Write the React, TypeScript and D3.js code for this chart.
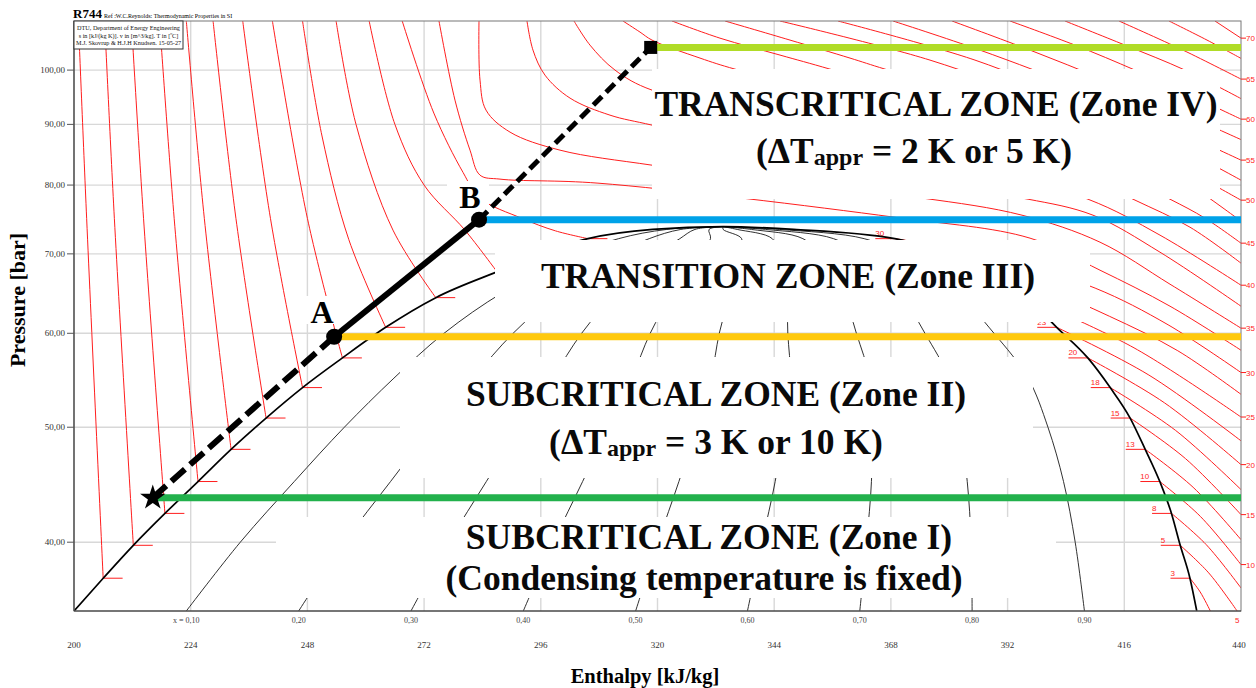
import React from "react";
import * as d3 from "d3";

// R744 (CO2) log p-h diagram with operating zones of a transcritical cycle

const H_DOMAIN = [200, 440];
const P_DOMAIN = [35, 110];
const H_TICKS = [200, 224, 248, 272, 296, 320, 344, 368, 392, 416, 440];
const P_TICKS = [40, 50, 60, 70, 80, 90, 100];
const P_TICK_LABELS = ["40,00", "50,00", "60,00", "70,00", "80,00", "90,00", "100,00"];

// saturation dome (h [kJ/kg], p [bar]), liquid side up to critical point then vapour side
const SAT_DOME = [
  [200.0, 35.0], [206.0, 37.3], [212.2, 39.76], [218.7, 42.3], [225.5, 45.0], [232.3, 47.9],
  [239.5, 50.9], [247.0, 54.0], [255.2, 57.2], [264.1, 60.7], [274.4, 64.3], [287.0, 67.6],
  [305.7, 72.1], [319.0, 73.4], [333.5, 73.8], [348.0, 73.4], [368.8, 72.1], [386.0, 67.6],
  [396.0, 64.3], [402.1, 60.7], [408.5, 57.2], [413.1, 54.0], [417.2, 50.9], [420.3, 47.9],
  [423.3, 45.0], [425.7, 42.3], [427.5, 39.76], [429.5, 37.3], [430.9, 35.0],
];

// constant quality lines
const QUALITY_LABELS = ["x = 0,10", "0,20", "0,30", "0,40", "0,50", "0,60", "0,70", "0,80", "0,90"];
const QUALITY_P = [35, 40, 45, 50, 55, 60, 65, 70, 72.1, 73.4, 73.8];
const QUALITY_H = [
  [223.1, 234.2, 245.3, 255.6, 265.8, 276.1, 288.3, 303.3, 312.0, 321.9, 333.5],
  [246.2, 255.6, 265.1, 273.7, 282.1, 290.3, 300.0, 311.6, 318.3, 324.8, 333.5],
  [269.3, 277.1, 284.8, 291.8, 298.4, 304.4, 311.6, 319.9, 324.6, 327.7, 333.5],
  [292.4, 298.6, 304.6, 309.9, 314.7, 318.5, 323.2, 328.2, 330.9, 330.6, 333.5],
  [315.5, 320.1, 324.4, 328.0, 331.0, 332.7, 334.9, 336.5, 337.3, 333.5, 333.5],
  [338.5, 341.5, 344.2, 346.0, 347.3, 346.8, 346.5, 344.8, 343.6, 336.4, 333.5],
  [361.6, 363.0, 364.0, 364.1, 363.6, 360.9, 358.1, 353.1, 349.9, 339.3, 333.5],
  [384.7, 384.5, 383.7, 382.2, 379.9, 375.0, 369.7, 361.4, 356.2, 342.2, 333.5],
  [407.8, 405.9, 403.5, 400.3, 396.2, 389.2, 381.4, 369.7, 362.5, 345.1, 333.5],
];

// subcritical isotherms [°C]: liquid branch (top -> saturation) and vapour branch (saturation -> edge)
const SUB_T = [2.5, 5, 7.5, 10, 12.5, 15, 17.5, 20, 22.5, 25, 27.5, 30];
const SUB_LABELS = ["3", "5", "8", "10", "13", "15", "18", "20", "23", "25", "28", "30"];
const SUB_LIQUID = [
  [[200.9, 110], [202.6, 75], [206.0, 37.3]],
  [[206.3, 110], [208.3, 75], [212.2, 39.76]],
  [[211.8, 110], [214.3, 75], [218.7, 42.3]],
  [[217.6, 110], [220.6, 75], [225.5, 45.0]],
  [[223.1, 110], [226.8, 75], [232.3, 47.9]],
  [[228.6, 110], [233.3, 75], [239.5, 50.9]],
  [[234.7, 110], [240.4, 75], [247.0, 54.0]],
  [[240.8, 110], [248.0, 75], [255.2, 57.2]],
  [[247.0, 110], [251.0, 88], [256.5, 72], [264.1, 60.7]],
  [[253.9, 110], [258.0, 90], [265.6, 73.3], [274.4, 64.3]],
  [[260.7, 110], [266.0, 90], [272.0, 80], [280.4, 73.3], [287.0, 67.6]],
  [[267.5, 110], [274.0, 92], [280.0, 82], [283.5, 78], [292.1, 75], [299.0, 73.2], [305.7, 72.1]],
];
const SUB_VAPOR = [
  [[429.5, 37.3], [431.6, 36.32], [433.7, 35.0]],
  [[427.5, 39.76], [433.35, 37.69], [439.2, 35.0]],
  [[425.7, 42.3], [432.85, 39.81], [440, 36.6]],
  [[423.3, 45.0], [431.65, 42.05], [440, 38.3]],
  [[420.3, 47.9], [430.15, 44.5], [440, 40.2]],
  [[417.2, 50.9], [428.6, 47.04], [440, 42.2]],
  [[413.1, 54.0], [426.55, 49.69], [440, 44.3]],
  [[408.5, 57.2], [424.25, 52.43], [440, 46.5]],
  [[402.1, 60.7], [421.05, 55.33], [440, 48.7]],
  [[396.0, 64.3], [418.0, 58.33], [440, 51.0]],
  [[386.0, 67.6], [400.0, 65.3], [413.0, 62.0], [427.0, 58.0], [440, 53.3]],
  [[368.8, 72.1], [390.0, 69.5], [410.0, 65.5], [425.0, 61.0], [440, 55.6]],
];

// supercritical isotherms [°C]
const SUPER_T = [32.5, 35, 37.5, 40, 42.5, 45, 47.5, 50, 52.5, 55, 57.5, 60, 62.5, 65, 67.5, 70];
const SUPER_ISO = [
  [[275.06, 110], [278.35, 94.34], [281.44, 85.61], [283.5, 81.56], [287.61, 80.93], [307.76, 80.3], [368.64, 75.17], [396.61, 72.17], [411.0, 67.82], [425.4, 63.24], [440, 58.06]],
  [[283.29, 110], [283.5, 98.08], [284.73, 92.53], [289.67, 88.66], [299.95, 85.61], [318.87, 83.15], [349.31, 79.99], [374.6, 77.99], [394.96, 75.46], [411.0, 71.61], [425.4, 66.0], [440, 60.6]],
  [[293.16, 110], [294.39, 103.96], [296.86, 99.03], [302.01, 94.71], [310.23, 91.63], [318.87, 89.87], [349.31, 83.97], [380.15, 79.52], [396.2, 77.84], [409.56, 75.46], [423.34, 70.23], [440, 63.24]],
  [[302.83, 110], [306.12, 104.97], [311.26, 100], [318.87, 96.19], [349.31, 90.75], [380.15, 83.97], [408.53, 77.84], [423.34, 72.59], [440, 65.87]],
  [[312.9, 110], [316.4, 107.66], [318.87, 106.0], [328.74, 102.36], [335.94, 100.19], [369.87, 92.53], [400.72, 83.97], [417.79, 77.84], [429.51, 73.72], [440, 68.75]],
  [[322.98, 110], [332.85, 106.4], [345.19, 102.96], [355.47, 100.19], [390.44, 90.75], [415.11, 81.56], [425.4, 77.84], [432.6, 75.02], [440, 71.47]],
  [[333.88, 110], [347.25, 106.0], [359.59, 102.36], [366.79, 100.19], [400.72, 91.1], [423.34, 83.15], [432.6, 78.45], [440, 74.59]],
  [[345.19, 110], [376.04, 101.96], [398.66, 94.34], [417.17, 87.29], [440, 77.69]],
  [[357.12, 110], [385.29, 101.96], [405.86, 94.34], [424.37, 87.29], [440, 80.77]],
  [[368.43, 110], [386.32, 103.96], [407.92, 96.19], [424.37, 89.87], [440, 83.97]],
  [[380.56, 110], [396.61, 103.96], [412.03, 98.08], [426.43, 92.53], [440, 87.38]],
  [[392.49, 110], [405.86, 104.97], [418.2, 100], [429.51, 95.26], [440, 90.92]],
  [[403.8, 110], [416.14, 104.97], [428.48, 100], [440, 94.62]],
  [[414.91, 110], [428.07, 103.96], [440, 98.27]],
  [[425.19, 110], [433.01, 106.0], [440, 102.3]],
  [[434.65, 110], [440, 106.4]],
];

// cycle states: star (zone I limit), A, B, top point
const CYCLE_LABELS = ["", "A", "B", ""];
const CYCLE_H = [216.2, 253.5, 283.3, 318.6];
const CYCLE_P = [43.6, 59.6, 74.8, 104.5];

// zone boundary lines, same order as the cycle states
const ZONE_LINE_P = [43.6, 59.6, 74.8, 104.5];

const ZONE_IV = ["TRANSCRITICAL ZONE (Zone IV)", "= 2 K or 5 K)"];
const ZONE_III = ["TRANSITION ZONE (Zone III)"];
const ZONE_II = ["SUBCRITICAL ZONE (Zone II)", "= 3 K or 10 K)"];
const ZONE_I = ["SUBCRITICAL ZONE (Zone I)", "(Condensing temperature is fixed)"];

const SERIF = "'Liberation Serif', 'Times New Roman', serif";
const SANS = "'Liberation Sans', Arial, sans-serif";
const RED = "#ff1e1e";

export default function App() {
  const left = 74, right = 1241, top = 21, bottom = 611;
  const x = d3.scaleLinear().domain(H_DOMAIN).range([left, right]);
  const y = d3.scaleLog().domain(P_DOMAIN).range([bottom, top]);

  const curve = d3
    .line<number[]>()
    .x((d) => x(d[0]))
    .y((d) => y(d[1]))
    .curve(d3.curveCatmullRom.alpha(0.5));
  const dome = d3
    .line<number[]>()
    .x((d) => x(d[0]))
    .y((d) => y(d[1]))
    .curve(d3.curveMonotoneX);

  const qualityLines = QUALITY_H.map((hs) => hs.map((h, i) => [h, QUALITY_P[i]]));

  // isotherm ends for the temperature scale on the right / bottom edge
  const ends: { t: number; h: number; p: number }[] = [];
  SUB_T.forEach((t, i) => {
    const e = SUB_VAPOR[i][SUB_VAPOR[i].length - 1];
    ends.push({ t, h: e[0], p: e[1] });
  });
  SUPER_T.forEach((t, i) => {
    const e = SUPER_ISO[i][SUPER_ISO[i].length - 1];
    ends.push({ t, h: e[0], p: e[1] });
  });
  const labelledEnds = ends.filter((e) => e.t % 5 === 0);

  const tickLen = 4; // kJ/kg, saturation marks

  // white panels behind the zone captions
  const panels = [
    { x: 652, y: 69, w: 568, h: 130 },
    { x: 495, y: 240, w: 595, h: 82 },
    { x: 400, y: 357, w: 633, h: 121 },
    { x: 276, y: 517, w: 780, h: 81 },
  ];
  const underPanel = (px: number, py: number) =>
    panels.some((r) => px >= r.x && px <= r.x + r.w && py >= r.y + 4 && py <= r.y + r.h);

  const zoneColors = ["#22b14c", "#ffc90e", "#00a2e8", "#b0dc27"];
  const pts = CYCLE_H.map((h, i) => [x(h), y(CYCLE_P[i])]);
  const star = d3.symbol().type(d3.symbolStar).size(200)();

  const capSize = 35.5;
  const subSize = 24;

  return (
    <svg
      width={1256}
      height={688}
      viewBox="0 0 1256 688"
      style={{ position: "absolute", left: 0, top: 0, background: "#fff" }}
    >
      <defs>
        <clipPath id="plot">
          <rect x={left} y={top} width={right - left} height={bottom - top} />
        </clipPath>
      </defs>
      <rect x={0} y={0} width={1256} height={688} fill="#fff" />

      {/* grid */}
      <g stroke="#d8d8d8" strokeWidth={1.4}>
        {H_TICKS.slice(1, -1).map((h) => (
          <line key={"gv" + h} x1={x(h)} x2={x(h)} y1={top} y2={bottom} />
        ))}
        {P_TICKS.map((p) => (
          <line key={"gh" + p} x1={left} x2={right} y1={y(p)} y2={y(p)} />
        ))}
      </g>

      <g clipPath="url(#plot)">
        {/* isotherms */}
        <g fill="none" stroke={RED} strokeWidth={1}>
          {SUB_LIQUID.map((d, i) => (
            <path key={"sl" + i} d={curve(d) || ""} />
          ))}
          {SUB_VAPOR.map((d, i) => (
            <path key={"sv" + i} d={curve(d) || ""} />
          ))}
          {SUPER_ISO.map((d, i) => (
            <path key={"sc" + i} d={curve(d) || ""} />
          ))}
          {SUB_LIQUID.map((d, i) => {
            const s = d[d.length - 1];
            return (
              <line key={"lt" + i} x1={x(s[0])} x2={x(s[0] + tickLen)} y1={y(s[1])} y2={y(s[1])} />
            );
          })}
          {SUB_VAPOR.map((d, i) => {
            const s = d[0];
            return (
              <line key={"vt" + i} x1={x(s[0] - tickLen)} x2={x(s[0])} y1={y(s[1])} y2={y(s[1])} />
            );
          })}
        </g>
        <g fill={RED} fontFamily={SANS} fontSize={8}>
          {SUB_VAPOR.map((d, i) => {
            const lx = x(d[0][0] - tickLen);
            const ly = y(d[0][1]) - 2.5;
            if (underPanel(lx, ly)) return null;
            return (
              <text key={"vl" + i} x={lx} y={ly}>
                {SUB_LABELS[i]}
              </text>
            );
          })}
        </g>

        {/* quality lines */}
        <g fill="none" stroke="#1a1a1a" strokeWidth={0.9}>
          {qualityLines.map((d, i) => (
            <path key={"q" + i} d={curve(d) || ""} />
          ))}
        </g>

        {/* saturation curve */}
        <path d={dome(SAT_DOME) || ""} fill="none" stroke="#000" strokeWidth={1.7} />
      </g>

      {/* caption panels */}
      <g fill="#fff">
        {panels.map((r, i) => (
          <rect key={"pn" + i} x={r.x} y={r.y} width={r.w} height={r.h} />
        ))}
        <rect x={447} y={181} width={42} height={30} />
        <rect x={306} y={296} width={33} height={28} />
      </g>

      {/* frame */}
      <rect x={left} y={top} width={right - left} height={bottom - top} fill="none" stroke="#777" strokeWidth={1} />
      <line x1={left} x2={left} y1={top} y2={bottom} stroke="#444" strokeWidth={1.2} />
      <line x1={left} x2={right} y1={bottom} y2={bottom} stroke="#333" strokeWidth={1.2} />

      {/* pressure axis */}
      <g fontFamily={SERIF} fontSize={9} fill="#333">
        {P_TICKS.map((p, i) => (
          <g key={"pt" + p}>
            <line x1={left - 7} x2={left} y1={y(p)} y2={y(p)} stroke="#555" />
            <text x={left - 9} y={y(p) + 3} textAnchor="end">
              {P_TICK_LABELS[i]}
            </text>
          </g>
        ))}
      </g>

      {/* enthalpy axis */}
      <g fontFamily={SERIF} fontSize={9} fill="#333" textAnchor="middle">
        {H_TICKS.map((h) => (
          <text key={"ht" + h} x={x(h) - (h === 440 ? 2 : 0)} y={648}>
            {h}
          </text>
        ))}
        {QUALITY_LABELS.map((s, i) => (
          <text key={"ql" + i} x={x(QUALITY_H[i][0])} y={623} fontSize={8} fill="#444">
            {s}
          </text>
        ))}
      </g>

      {/* temperature scale at the isotherm ends */}
      <g fontFamily={SANS} fontSize={8} fill={RED}>
        {labelledEnds.map((e) =>
          e.p <= P_DOMAIN[0] + 0.01 ? (
            <text key={"te" + e.t} x={x(e.h)} y={623} textAnchor="middle">
              {e.t}
            </text>
          ) : (
            <g key={"te" + e.t}>
              <line x1={right} x2={right + 5} y1={y(e.p)} y2={y(e.p)} stroke={RED} />
              <text x={right + 5} y={y(e.p) + 3}>
                {e.t}
              </text>
            </g>
          )
        )}
      </g>

      {/* axis titles */}
      <text
        transform="translate(25,300) rotate(-90)"
        textAnchor="middle"
        fontFamily={SERIF}
        fontWeight="bold"
        fontSize={22}
        fill="#000"
      >
        Pressure [bar]
      </text>
      <text x={645} y={683} textAnchor="middle" fontFamily={SERIF} fontWeight="bold" fontSize={20.5} fill="#000">
        Enthalpy [kJ/kg]
      </text>

      {/* header */}
      <text x={73} y={18} fontFamily={SERIF} fontWeight="bold" fontSize={13} fill="#000">
        R744
      </text>
      <text x={104} y={18} fontFamily={SERIF} fontSize={6} fill="#000">
        Ref :W.C.Reynolds: Thermodynamic Properties in SI
      </text>
      <rect x={left} y={top} width={109} height={28} fill="#fff" stroke="#333" strokeWidth={1} />
      <g fontFamily={SERIF} fontSize={6.2} fill="#111" textAnchor="middle">
        <text x={128.5} y={30}>DTU, Department of Energy Engineering</text>
        <text x={128.5} y={37.5}>s in [kJ/(kg K)]. v in [m^3/kg]. T in [ºC]</text>
        <text x={128.5} y={45}>M.J. Skovrup &amp; H.J.H Knudsen. 15-05-27</text>
      </g>

      {/* zone captions */}
      <g fontFamily={SERIF} fontWeight="bold" fontSize={capSize} fill="#0a0a0a" textAnchor="middle">
        <text x={936} y={116}>{ZONE_IV[0]}</text>
        <text x={914} y={163}>
          (ΔT<tspan fontSize={subSize} dy={2}>appr</tspan>
          <tspan dy={-2}> {ZONE_IV[1]}</tspan>
        </text>
        <text x={788} y={288}>{ZONE_III[0]}</text>
        <text x={716} y={406}>{ZONE_II[0]}</text>
        <text x={716} y={454}>
          (ΔT<tspan fontSize={subSize} dy={2}>appr</tspan>
          <tspan dy={-2}> {ZONE_II[1]}</tspan>
        </text>
        <text x={709} y={549}>{ZONE_I[0]}</text>
        <text x={704} y={590}>{ZONE_I[1]}</text>
      </g>

      {/* zone boundary lines */}
      {ZONE_LINE_P.map((p, i) => (
        <line
          key={"zl" + i}
          x1={x(CYCLE_H[i])}
          x2={right}
          y1={y(p)}
          y2={y(p)}
          stroke={zoneColors[i]}
          strokeWidth={7}
        />
      ))}

      {/* cycle path */}
      <g fill="none" stroke="#000">
        <line x1={pts[0][0]} y1={pts[0][1]} x2={pts[1][0]} y2={pts[1][1]} strokeWidth={6} strokeDasharray="18 7" />
        <line x1={pts[1][0]} y1={pts[1][1]} x2={pts[2][0]} y2={pts[2][1]} strokeWidth={6} />
        <line x1={pts[2][0]} y1={pts[2][1]} x2={pts[3][0]} y2={pts[3][1]} strokeWidth={5} strokeDasharray="12 6" />
      </g>
      <path d={star || ""} transform={`translate(${pts[0][0]},${pts[0][1]})`} fill="#000" />
      <circle cx={pts[1][0]} cy={pts[1][1]} r={8} fill="#000" />
      <circle cx={pts[2][0]} cy={pts[2][1]} r={8} fill="#000" />
      <rect x={pts[3][0] - 6.5} y={pts[3][1] - 6.5} width={13} height={13} fill="#000" />
      <g fontFamily={SERIF} fontWeight="bold" fontSize={32} fill="#000" textAnchor="middle">
        <text x={pts[1][0] - 12} y={pts[1][1] - 14}>
          {CYCLE_LABELS[1]}
        </text>
        <text x={pts[2][0] - 9} y={pts[2][1] - 12}>
          {CYCLE_LABELS[2]}
        </text>
      </g>
    </svg>
  );
}
